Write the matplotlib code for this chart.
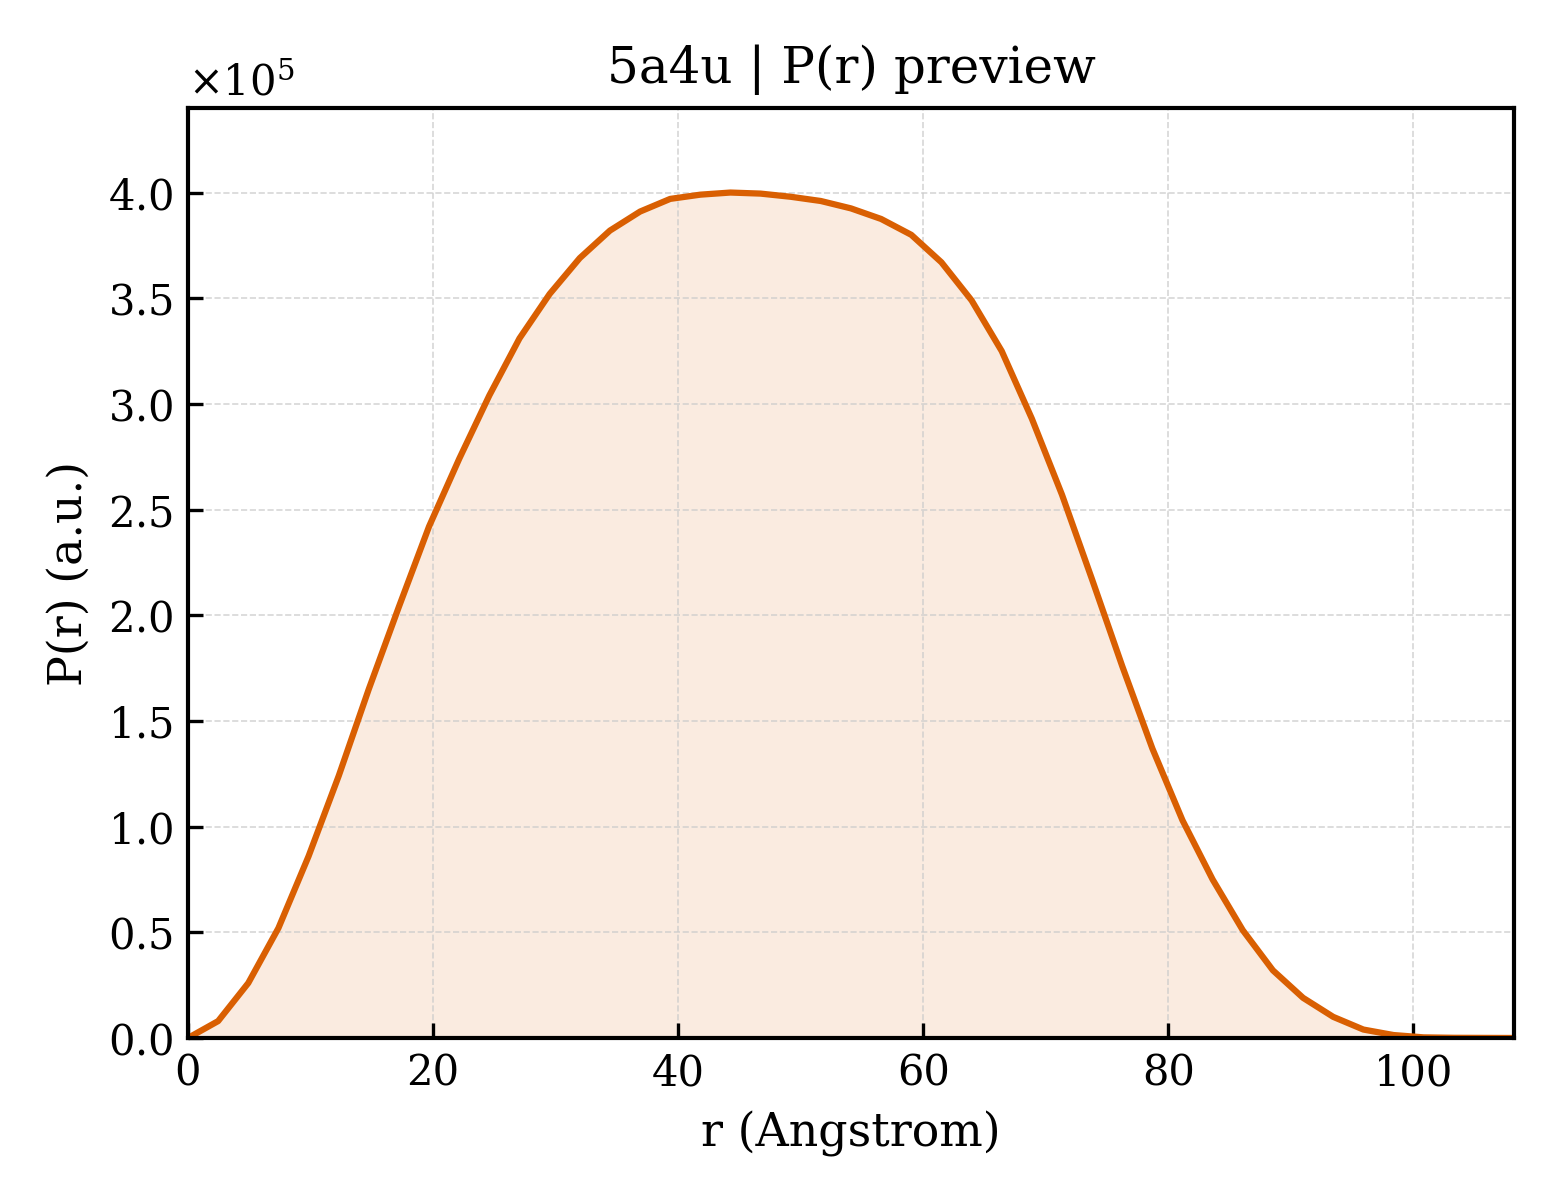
import numpy as np
import matplotlib.pyplot as plt

# P(r) for 5a4u
r = [0.0, 2.46, 4.92, 7.38, 9.84, 12.3, 14.75, 17.21, 19.67, 22.13,
     24.59, 27.05, 29.51, 31.97, 34.43, 36.89, 39.35, 41.81, 44.26, 46.72,
     49.18, 51.64, 54.1, 56.56, 59.02, 61.48, 63.94, 66.4, 68.86, 71.32,
     73.77, 76.23, 78.69, 81.15, 83.61, 86.07, 88.53, 90.99, 93.45, 95.91,
     98.37, 100.83, 103.28, 105.74, 108.2]
pr = [0.0, 0.08, 0.26, 0.52, 0.86, 1.24, 1.65, 2.04, 2.42, 2.74,
      3.04, 3.31, 3.52, 3.69, 3.82, 3.91, 3.97, 3.99, 4.00, 3.995,
      3.98, 3.96, 3.925, 3.875, 3.80, 3.67, 3.49, 3.25, 2.93, 2.57,
      2.17, 1.76, 1.37, 1.03, 0.75, 0.51, 0.32, 0.19, 0.10, 0.04,
      0.014, 0.003, 0.001, 0.0005, 0.0]
pr = np.array(pr) * 1e5

plt.rcParams['font.family'] = 'DejaVu Serif'
plt.rcParams['mathtext.fontset'] = 'dejavuserif'

fig = plt.figure(figsize=(5.2, 4), dpi=300)
ax = fig.add_axes([0.1205, 0.135, 0.85, 0.775])

col = '#d95f02'
ax.fill_between(r, pr, color=col, alpha=0.12, linewidth=0)
ax.plot(r, pr, color=col, lw=1.5)

ax.set_xlim(0, r[-1])
ax.set_ylim(0, 4.4e5)
ax.set_yticks(np.arange(0, 4.01e5, 0.5e5))
ax.ticklabel_format(axis='y', style='sci', scilimits=(0, 0), useMathText=True)
ax.tick_params(direction='in', labelsize=10)
ax.yaxis.get_offset_text().set_fontsize(10)
ax.grid(True, linestyle='--', linewidth=0.4, color='#cccccc', alpha=0.8)
for s in ax.spines.values():
    s.set_linewidth(1.0)

ax.set_xlabel('r (Angstrom)', fontsize=11)
ax.set_ylabel('P(r) (a.u.)', fontsize=11)
ax.set_title('5a4u | P(r) preview', fontsize=12)

fig.savefig('out.png', dpi=300)
